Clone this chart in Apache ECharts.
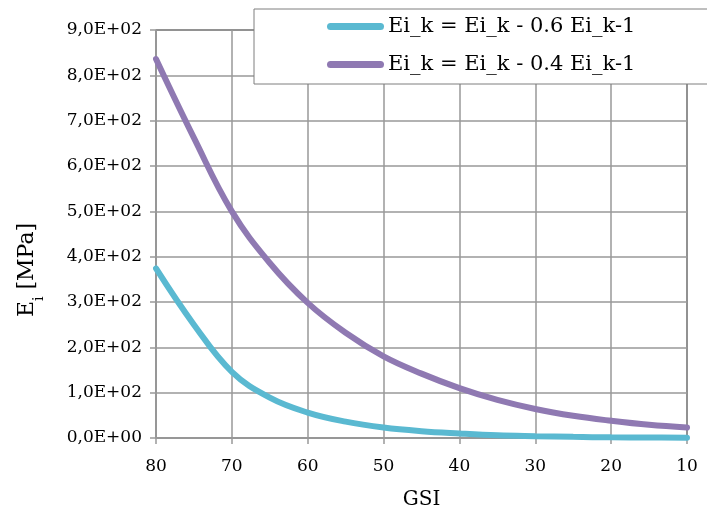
<!DOCTYPE html>
<html>
<head>
<meta charset="utf-8">
<script src="https://cdn.jsdelivr.net/npm/echarts@6/dist/echarts.min.js"></script>
<style>
html,body{margin:0;padding:0;background:#fff;}
#chart{width:707px;height:511px;}
</style>
</head>
<body>
<div id="chart"></div>
<script>
const gsi = [80, 75, 70, 65, 60, 55, 50, 45, 40, 35, 30, 25, 20, 15, 10];
const seriesNames = ['Ei_k = Ei_k - 0.6 Ei_k-1', 'Ei_k = Ei_k - 0.4 Ei_k-1'];
const ei06 = [374, 250, 146, 89, 56, 36, 23, 15, 10, 6, 4, 2.5, 1.5, 1, 0.6];
const ei04 = [836, 662, 500, 386, 298, 232, 180, 142, 110, 84, 64, 49, 38, 29, 23];
const yTickLabels = ['0,0E+00','1,0E+02','2,0E+02','3,0E+02','4,0E+02','5,0E+02','6,0E+02','7,0E+02','8,0E+02','9,0E+02'];

const FONT = 'DejaVu Serif';
const colors = ['#5AB9D1', '#8F79B2'];

function pairs(xs, ys){ return xs.map((x,i)=>[x, ys[i]]); }

const chart = echarts.init(document.getElementById('chart'));
chart.setOption({
  animation: false,
  backgroundColor: '#fff',
  grid: {left: 156, right: 20, top: 30, bottom: 73, show: true, borderColor: '#000', borderWidth: 1,
         containLabel: false, outerBoundsMode: 'none'},
  legend: {
    orient: 'vertical',
    left: 254, top: 9,
    padding: [5, 90, 7, 73],
    itemGap: 13,
    itemWidth: 57, itemHeight: 7,
    backgroundColor: '#fff',
    borderColor: '#7f7f7f', borderWidth: 1,
    textStyle: {fontFamily: FONT, fontSize: 21, lineHeight: 25, color: '#000', padding: [0,0,0,-1]},
    icon: 'path://M3.5,0 L53.5,0 A3.5,3.5 0 0 1 53.5,7 L3.5,7 A3.5,3.5 0 0 1 3.5,0 Z',
    data: seriesNames
  },
  xAxis: {
    type: 'value', inverse: true, min: 10, max: 80, interval: 10,
    name: 'GSI', nameLocation: 'middle', nameGap: 52,
    nameTextStyle: {fontFamily: FONT, fontSize: 20, color: '#000'},
    axisLine: {show: true, onZero: false, lineStyle: {color: '#999', width: 1.5}},
    axisTick: {show: true, length: 6, lineStyle: {color: '#999', width: 1.5}},
    axisLabel: {fontFamily: FONT, fontSize: 17, color: '#000', margin: 20},
    splitLine: {show: true, lineStyle: {color: '#999', width: 1.5}}
  },
  yAxis: {
    type: 'value', min: 0, max: 900, interval: 100,
    name: 'E{sub|i} [MPa]', nameLocation: 'middle', nameGap: 118, nameRotate: 90,
    nameTextStyle: {fontFamily: FONT, fontSize: 22, color: '#000', padding: [0, 72, 0, 0],
      rich: {sub: {fontFamily: FONT, fontSize: 14, color: '#000', verticalAlign: 'bottom', padding: [0,0,-8,0]}}},
    axisLine: {show: true, lineStyle: {color: '#999', width: 1.5}},
    axisTick: {show: true, length: 6, lineStyle: {color: '#999', width: 1.5}},
    axisLabel: {fontFamily: FONT, fontSize: 17, color: '#000', margin: 14,
      formatter: function(v){ return yTickLabels[Math.round(v/100)]; }},
    splitLine: {show: true, lineStyle: {color: '#999', width: 1.5}}
  },
  series: [
    {name: seriesNames[0], type: 'line', data: pairs(gsi, ei06), smooth: 0.4, showSymbol: false,
     lineStyle: {color: colors[0], width: 6, cap: 'round'}, itemStyle: {color: colors[0]}},
    {name: seriesNames[1], type: 'line', data: pairs(gsi, ei04), smooth: 0.4, showSymbol: false,
     lineStyle: {color: colors[1], width: 6, cap: 'round'}, itemStyle: {color: colors[1]}}
  ]
});
</script>
</body>
</html>
